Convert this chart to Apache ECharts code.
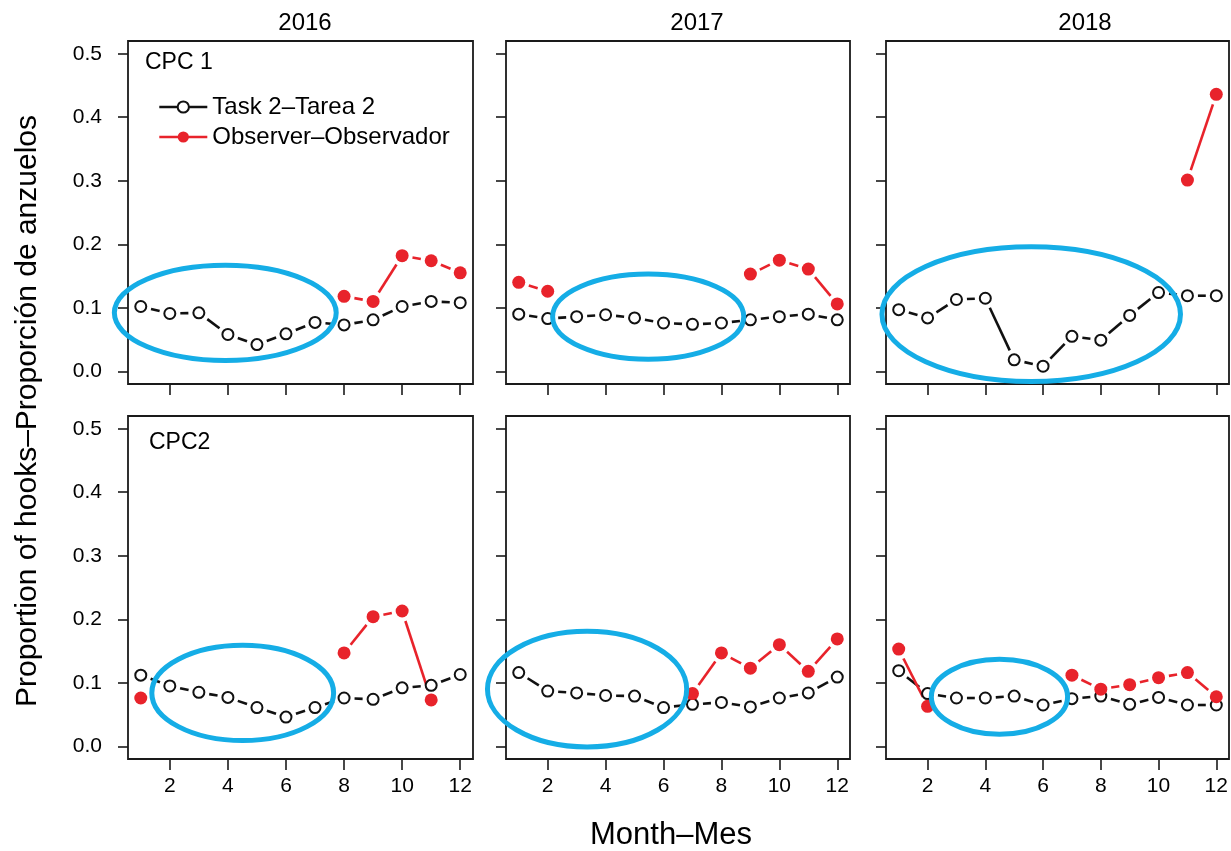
<!DOCTYPE html>
<html>
<head>
<meta charset="utf-8">
<script src="https://cdn.jsdelivr.net/npm/echarts@6/dist/echarts.min.js"></script>
<style>
  html, body { margin: 0; padding: 0; background: #fff; }
  #chart { width: 1231px; height: 851px; }
</style>
</head>
<body>
<div id="chart"></div>
<script>
const months = [1, 2, 3, 4, 5, 6, 7, 8, 9, 10, 11, 12];
const xTicks = [2, 4, 6, 8, 10, 12];
const yTicks = [0, 0.1, 0.2, 0.3, 0.4, 0.5];
const years = ['2016', '2017', '2018'];
const areas = ['CPC 1', 'CPC2'];

// CPC 1
const task2016a = [0.102, 0.091, 0.092, 0.058, 0.042, 0.059, 0.077, 0.073, 0.081, 0.102, 0.110, 0.108];
const obs2016a = [null, null, null, null, null, null, null, 0.118, 0.110, 0.182, 0.174, 0.155];
const task2017a = [0.090, 0.083, 0.086, 0.089, 0.084, 0.076, 0.074, 0.076, 0.081, 0.086, 0.090, 0.081];
const obs2017a = [0.140, 0.126, null, null, null, null, null, null, 0.153, 0.175, 0.161, 0.106];
const task2018a = [0.097, 0.084, 0.113, 0.115, 0.018, 0.008, 0.055, 0.049, 0.088, 0.124, 0.119, 0.119];
const obs2018a = [null, null, null, null, null, null, null, null, null, null, 0.301, 0.436];

// CPC2
const task2016b = [0.112, 0.095, 0.085, 0.077, 0.061, 0.046, 0.061, 0.076, 0.074, 0.092, 0.096, 0.113];
const obs2016b = [0.076, null, null, null, null, null, null, 0.147, 0.204, 0.213, 0.073, null];
const task2017b = [0.116, 0.087, 0.084, 0.080, 0.079, 0.061, 0.066, 0.069, 0.062, 0.076, 0.084, 0.109];
const obs2017b = [null, null, null, null, null, null, 0.083, 0.147, 0.123, 0.160, 0.118, 0.169];
const task2018b = [0.119, 0.083, 0.076, 0.076, 0.079, 0.065, 0.075, 0.079, 0.066, 0.077, 0.065, 0.065];
const obs2018b = [0.153, 0.063, null, null, null, null, 0.112, 0.090, 0.097, 0.108, 0.116, 0.078];

// highlight ellipses: [centre month, centre value, half width (months), half height (value)]
const ring2016a = [3.91, 0.092, 3.82, 0.075];
const ring2017a = [5.47, 0.086, 3.30, 0.067];
const ring2018a = [5.59, 0.090, 5.17, 0.106];
const ring2016b = [4.51, 0.084, 3.13, 0.075];
const ring2017b = [3.36, 0.090, 3.44, 0.091];
const ring2018b = [4.49, 0.078, 2.36, 0.059];

const taskName = 'Task 2\u2013Tarea 2';
const obsName = 'Observer\u2013Observador';
const font = '"Liberation Sans", Arial, sans-serif';
const black = '#111';
const red = '#e8232b';
const blue = '#15ade6';
const gap = 10.5;

const panels = [
  {task: task2016a, obs: obs2016a, ring: ring2016a},
  {task: task2017a, obs: obs2017a, ring: ring2017a},
  {task: task2018a, obs: obs2018a, ring: ring2018a},
  {task: task2016b, obs: obs2016b, ring: ring2016b},
  {task: task2017b, obs: obs2017b, ring: ring2017b},
  {task: task2018b, obs: obs2018b, ring: ring2018b},
];

const colLeft = [128, 506, 886];
const colWidth = [345, 344, 343];
const rowTop = [41, 416];
const rowHeight = 343;

function points(arr) {
  let out = [];
  for (let i = 0; i < arr.length; i++) {
    if (arr[i] !== null) out.push([months[i], arr[i]]);
  }
  return out;
}

function segments(arr) {
  let out = [];
  for (let i = 1; i < arr.length; i++) {
    if (arr[i - 1] !== null && arr[i] !== null) out.push([months[i - 1], arr[i - 1], months[i], arr[i]]);
  }
  return out;
}

// R type="b": line segments stop short of each point
function makeSegRender(color) {
  return function (params, api) {
    const p1 = api.coord([api.value(0), api.value(1)]);
    const p2 = api.coord([api.value(2), api.value(3)]);
    const dx = p2[0] - p1[0], dy = p2[1] - p1[1];
    const len = Math.hypot(dx, dy);
    if (len <= 2 * gap) return null;
    const ux = dx / len, uy = dy / len;
    return {
      type: 'line',
      shape: {x1: p1[0] + ux * gap, y1: p1[1] + uy * gap, x2: p2[0] - ux * gap, y2: p2[1] - uy * gap},
      style: {stroke: color, lineWidth: 2.6, lineCap: 'butt'},
    };
  };
}

function ringRender(params, api) {
  const c = api.coord([api.value(0), api.value(1)]);
  const s = api.size([api.value(2), api.value(3)]);
  return {
    type: 'ellipse',
    shape: {cx: c[0], cy: c[1], rx: s[0], ry: s[1]},
    style: {fill: 'none', stroke: blue, lineWidth: 5},
  };
}

let grids = [], xAxes = [], yAxes = [], series = [];

panels.forEach((p, k) => {
  const col = k % 3, row = Math.floor(k / 3);
  grids.push({
    left: colLeft[col], top: rowTop[row], width: colWidth[col], height: rowHeight,
    show: true, borderColor: '#1a1a1a', borderWidth: 1.8, backgroundColor: 'transparent',
  });
  xAxes.push({
    type: 'value', gridIndex: k, min: 0.56, max: 12.44,
    axisLine: {show: false, onZero: false},
    axisTick: {show: true, length: 11, customValues: xTicks, lineStyle: {color: '#1a1a1a', width: 1.6}},
    axisLabel: {show: row === 1, customValues: xTicks, margin: 17, color: '#000', fontSize: 21, fontFamily: font},
    splitLine: {show: false},
  });
  yAxes.push({
    type: 'value', gridIndex: k, min: -0.02, max: 0.52,
    axisLine: {show: false, onZero: false},
    axisTick: {show: true, length: 10, customValues: yTicks, lineStyle: {color: '#1a1a1a', width: 1.6}},
    axisLabel: {show: col === 0, customValues: yTicks, margin: 26, color: '#000', fontSize: 21, fontFamily: font,
      formatter: (v) => v.toFixed(1)},
    splitLine: {show: false},
  });

  series.push({
    type: 'custom', xAxisIndex: k, yAxisIndex: k, z: 2, silent: true,
    renderItem: makeSegRender(black), data: segments(p.task),
  });
  series.push({
    type: 'custom', xAxisIndex: k, yAxisIndex: k, z: 2, silent: true,
    renderItem: makeSegRender(red), data: segments(p.obs),
  });
  series.push({
    name: taskName, type: 'line', xAxisIndex: k, yAxisIndex: k, z: 3,
    data: points(p.task), symbol: 'emptyCircle', symbolSize: 11,
    itemStyle: {color: black, borderWidth: 2.8},
    lineStyle: {color: black, width: 0, opacity: 0},
    animation: false,
  });
  series.push({
    name: obsName, type: 'line', xAxisIndex: k, yAxisIndex: k, z: 3,
    data: points(p.obs), symbol: 'circle', symbolSize: 13,
    itemStyle: {color: red},
    lineStyle: {color: red, width: 0, opacity: 0},
    animation: false,
  });
  series.push({
    type: 'custom', xAxisIndex: k, yAxisIndex: k, z: 5, silent: true, clip: false,
    renderItem: ringRender, data: [p.ring],
  });
});

const titleX = [305, 697, 1085];
let graphics = years.map((y, i) => ({
  type: 'text', x: titleX[i], y: 23,
  style: {text: y, font: '24px ' + font, fill: '#000', textAlign: 'center', textVerticalAlign: 'middle'},
}));
graphics.push({
  type: 'text', x: 145, y: 63,
  style: {text: areas[0], font: '23px ' + font, fill: '#000', textAlign: 'left', textVerticalAlign: 'middle'},
});
graphics.push({
  type: 'text', x: 149, y: 443,
  style: {text: areas[1], font: '23px ' + font, fill: '#000', textAlign: 'left', textVerticalAlign: 'middle'},
});
graphics.push({
  type: 'text', x: 671, y: 835,
  style: {text: 'Month\u2013Mes', font: '31px ' + font, fill: '#000', textAlign: 'center', textVerticalAlign: 'middle'},
});
graphics.push({
  type: 'text', x: 28, y: 411, rotation: Math.PI / 2,
  style: {text: 'Proportion of hooks\u2013Proporci\u00f3n de anzuelos', font: '30px ' + font, fill: '#000',
    textAlign: 'center', textVerticalAlign: 'middle'},
});

const chart = echarts.init(document.getElementById('chart'), null, {renderer: 'canvas'});
chart.setOption({
  animation: false,
  backgroundColor: '#fff',
  grid: grids,
  xAxis: xAxes,
  yAxis: yAxes,
  legend: {
    data: [taskName, obsName],
    orient: 'vertical', left: 153, top: 90,
    itemWidth: 48, itemHeight: 14, itemGap: 6,
    textStyle: {fontSize: 24, fontFamily: font, color: '#000', padding: [0, 0, 0, 0]},
    lineStyle: {width: 2.6, opacity: 1},
    selectedMode: false,
  },
  graphic: graphics,
  series: series,
});
</script>
</body>
</html>
